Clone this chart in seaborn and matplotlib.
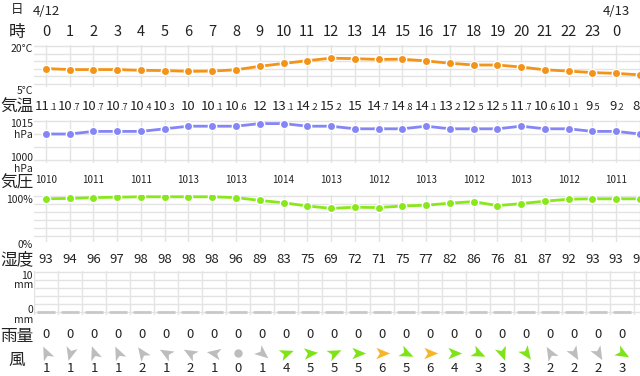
import matplotlib
matplotlib.use("Agg")
import matplotlib.pyplot as plt
import matplotlib.transforms as mtransforms
from matplotlib.path import Path
from matplotlib.markers import MarkerStyle
import seaborn as sns

# data (hour 25 is only partly visible at the right edge)
hours = list(range(26))
hour_labels = ["0", "1", "2", "3", "4", "5", "6", "7", "8", "9", "10", "11", "12",
               "13", "14", "15", "16", "17", "18", "19", "20", "21", "22", "23", "0"]
date_labels = ["4/12", "4/13"]
date_hours = [0, 24]

temps = [11.1, 10.7, 10.7, 10.7, 10.4, 10.3, 10, 10.1, 10.6, 12, 13.1, 14.2, 15.2,
         15, 14.7, 14.8, 14.1, 13.2, 12.5, 12.5, 11.7, 10.6, 10.1, 9.5, 9.2, 8.6]
pressure = [1010, 1010, 1011, 1011, 1011, 1012, 1013, 1013, 1013, 1014, 1014, 1013, 1013,
            1012, 1012, 1012, 1013, 1012, 1012, 1012, 1013, 1012, 1012, 1011, 1011, 1010]
humidity = [93, 94, 96, 97, 98, 98, 98, 98, 96, 89, 83, 75, 69,
            72, 71, 75, 77, 82, 86, 76, 81, 87, 92, 93, 93, 93]
rain = [0, 0, 0, 0, 0, 0, 0, 0, 0, 0, 0, 0, 0,
        0, 0, 0, 0, 0, 0, 0, 0, 0, 0, 0, 0]
wind_speed = [1, 1, 1, 1, 2, 1, 2, 1, 0, 1, 4, 5, 5,
              5, 6, 5, 6, 4, 3, 3, 3, 2, 2, 2, 3]
# arrow heading in degrees, 0 = pointing right, counter-clockwise
wind_dir = [115, -105, 110, 115, 125, 150, 150, 170, 0, -40, 20, 5, 25,
            0, 0, -25, 0, 0, -25, -70, -55, 120, -60, -60, -30]

W, H = 640, 376
X0 = 34
TEXT = "#222222"
GRID = "#e3e3e3"
C_TEMP = "#f39418"
C_PRES = "#8585f5"
C_HUM = "#88e81a"
C_RAIN = "#c8c8c8"

sns.set_style("white")
plt.rcParams["font.family"] = ["Noto Sans CJK JP", "DejaVu Sans"]

fig = plt.figure(figsize=(6.4, 3.76), dpi=100)


def panel(top, bottom, vmin, vmax, pad_top=1, pad_bot=3):
    scale = (bottom - top) / (vmax - vmin)
    ax = fig.add_axes([X0 / W, 1 - (bottom + pad_bot) / H, (W - X0) / W,
                       (bottom - top + pad_top + pad_bot) / H])
    ax.set_ylim(vmin - pad_bot / scale, vmax + pad_top / scale)
    return ax


def finish(ax, yticks, xticks):
    ax.set_xlim(-0.5, (W - 46) / 24)
    ax.set_yticks(yticks)
    ax.set_xticks(xticks)
    ax.grid(True, color=GRID, lw=1)
    ax.set_axisbelow(True)
    ax.tick_params(length=0, labelbottom=False, labelleft=False)
    ax.set_xlabel("")
    ax.set_ylabel("")
    for s in ax.spines.values():
        s.set_visible(False)


def row_text(ax, x, ypx, s, size, ha="center", va="baseline", color=TEXT):
    tr = mtransforms.blended_transform_factory(ax.transData, fig.transFigure)
    ax.text(x, 1 - ypx / H, s, transform=tr, fontsize=size, ha=ha, va=va, color=color)


def side_text(xpx, ypx, s, size, ha="right", va="baseline"):
    fig.text(xpx / W, 1 - ypx / H, s, fontsize=size, ha=ha, va=va, color=TEXT)


line_kw = dict(marker="o", markersize=6, markeredgecolor="white", markeredgewidth=1, linewidth=2)

# temperature
ax_t = panel(46, 84, 5, 20)
sns.lineplot(x=hours, y=temps, ax=ax_t, color=C_TEMP, **line_kw)
finish(ax_t, [5, 8, 11, 14, 17, 20], hours)

# pressure
ax_p = panel(121, 160, 1000, 1015)
sns.lineplot(x=hours, y=pressure, ax=ax_p, color=C_PRES, **line_kw)
finish(ax_p, [1000, 1005, 1010, 1015], hours)

# humidity
ax_h = panel(196, 236, 0, 100, pad_bot=6)
sns.lineplot(x=hours, y=humidity, ax=ax_h, color=C_HUM, **line_kw)
finish(ax_h, [0, 20, 40, 60, 80, 100], hours)

# rain
ax_r = panel(272, 312, 0, 10)
sns.barplot(x=hours[:25], y=rain, ax=ax_r, native_scale=True, width=0.75,
            color=C_RAIN, edgecolor=C_RAIN, linewidth=2)
finish(ax_r, [0, 2, 4, 6, 8, 10], [h - 0.5 for h in hours])

# wind arrows
ax_w = fig.add_axes([X0 / W, 1 - 361 / H, (W - X0) / W, 16 / H])
ax_w.set_ylim(-1, 1)
ax_w.set_xlim(-0.5, (W - 46) / 24)
ax_w.axis("off")
arrow = Path([(1, 0), (-0.8, 0.75), (-0.35, 0), (-0.8, -0.75), (1, 0)],
             [Path.MOVETO, Path.LINETO, Path.LINETO, Path.LINETO, Path.CLOSEPOLY])
for h, sp, d in zip(hours, wind_speed, wind_dir):
    if sp <= 2:
        c = "#bdbdbd"
    elif sp <= 5:
        c = "#7ee317"
    else:
        c = "#f7b52c"
    if sp == 0:
        ax_w.plot([h], [0], marker="o", markersize=5, color=c, linestyle="none")
    else:
        m = MarkerStyle(arrow, transform=mtransforms.Affine2D().rotate_deg(d))
        ax_w.plot([h], [0], marker=m, markersize=11, color=c, markeredgewidth=0, linestyle="none")

# header rows
side_text(17, 10, "日", 9, ha="center", va="center")
side_text(17, 32, "時", 12, ha="center", va="center")
for h, lab in zip(date_hours, date_labels):
    row_text(ax_t, h, 15, lab, 9.5)
for h, lab in zip(hours, hour_labels):
    row_text(ax_t, h, 36.5, lab, 10.5)

# value rows
for h, t in zip(hours, temps):
    whole, _, frac = f"{t:g}".partition(".")
    if frac:
        shift = (6.2 * len(whole) - 6) / 2 / 24
        row_text(ax_t, h + shift, 110, whole, 9.5, ha="right")
        row_text(ax_t, h + shift, 110, "." + frac, 6.5, ha="left")
    else:
        row_text(ax_t, h, 110, whole, 9.5)
for h in hours[0:25:2]:
    row_text(ax_p, h, 183, str(pressure[h]), 7)
for h, v in zip(hours, humidity):
    row_text(ax_h, h, 263, str(v), 9.5)
for h, v in zip(hours[:25], rain):
    row_text(ax_r, h, 338, f"{v:g}", 9.5)
for h, v in zip(hours[:25], wind_speed):
    row_text(ax_w, h, 372, str(v), 9.5)

# row names and axis labels on the left
for ypx, name in [(107, "気温"), (183, "気圧"), (260, "湿度"), (336, "雨量"), (360, "風")]:
    side_text(17, ypx, name, 12, ha="center", va="center")
for ypx, lab in [(52, "20°C"), (94, "5°C"), (127, "1015"), (138, "hPa"), (161, "1000"),
                 (172, "hPa"), (203, "100%"), (248, "0%"), (279, "10"), (288, "mm"),
                 (313, "0"), (323, "mm")]:
    side_text(33, ypx, lab, 7.5)

fig.savefig("out.png", dpi=100)
